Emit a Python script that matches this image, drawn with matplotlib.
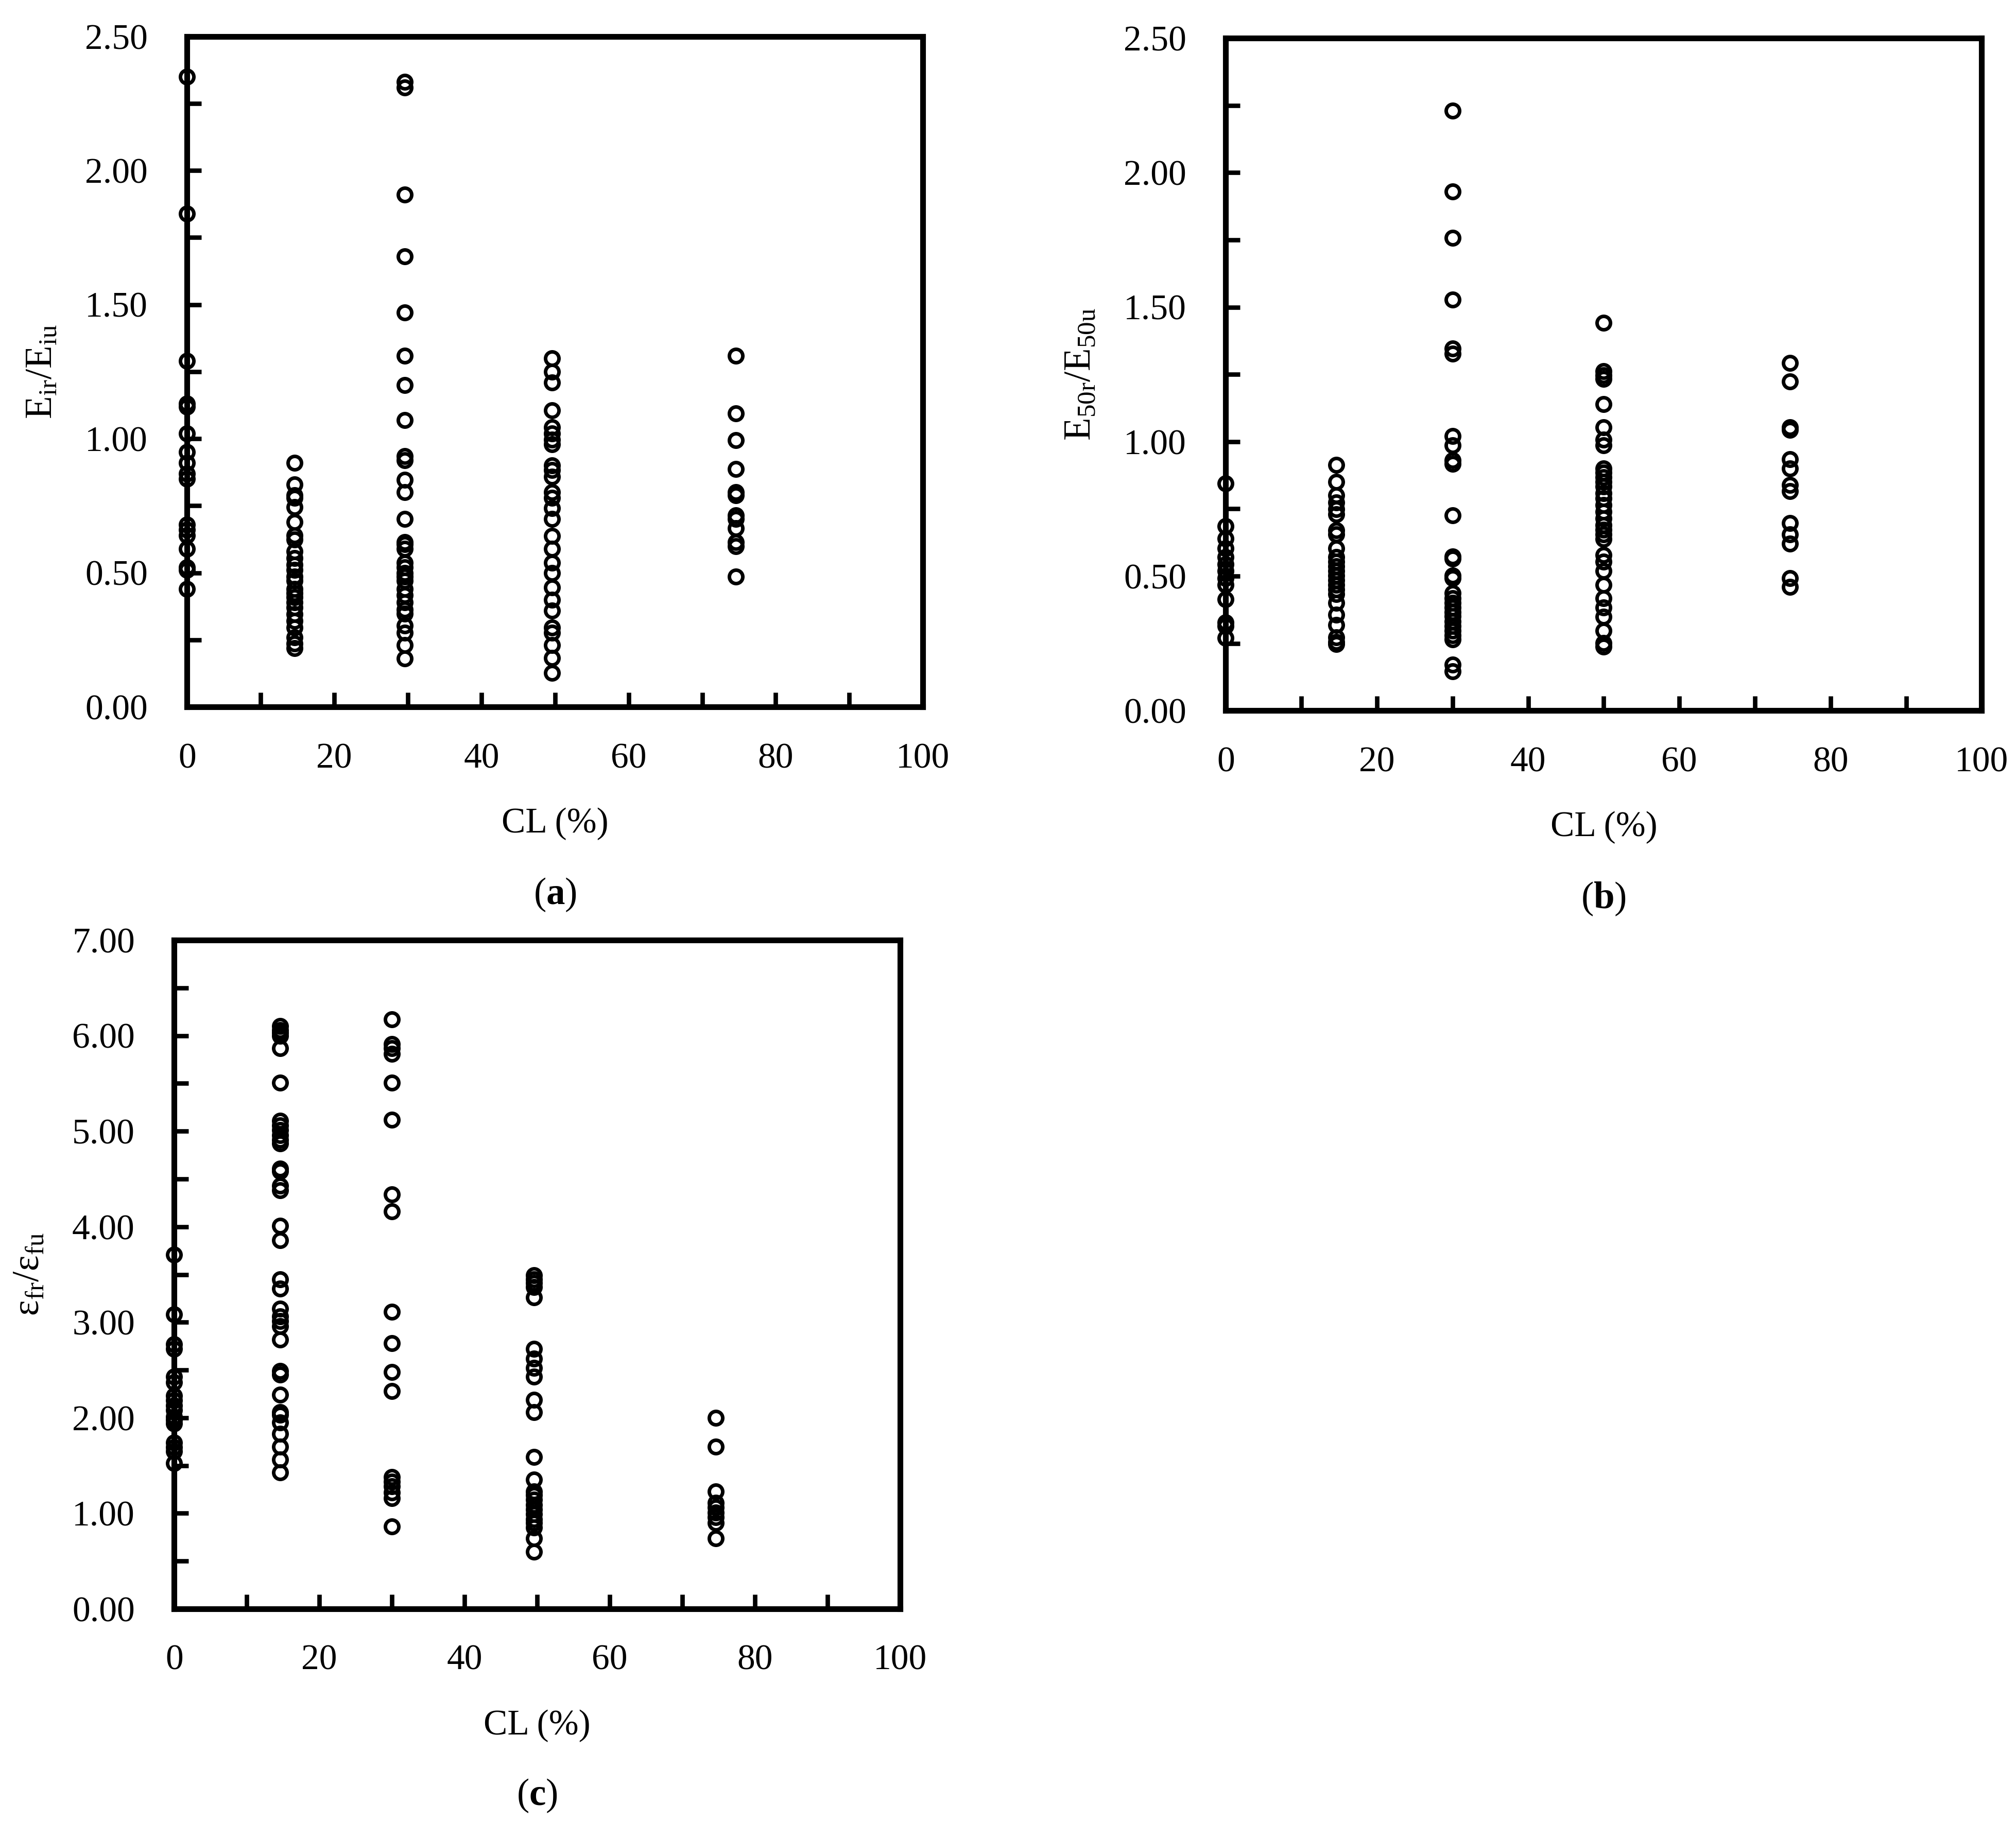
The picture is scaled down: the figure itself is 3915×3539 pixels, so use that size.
import numpy as np
import matplotlib
matplotlib.use("Agg")
import matplotlib.pyplot as plt
from matplotlib.ticker import MultipleLocator, FormatStrFormatter

plt.rcParams['font.family'] = ['Liberation Serif', 'DejaVu Serif']
plt.rcParams['mathtext.fontset'] = 'custom'
plt.rcParams['mathtext.rm'] = 'Liberation Serif'
plt.rcParams['mathtext.it'] = 'Liberation Serif:italic'
plt.rcParams['mathtext.bf'] = 'Liberation Serif:bold'

# CL groups
cl_a = [0, 14.6, 29.6, 49.6, 74.6]
cl_b = [0, 14.6, 30, 50, 74.6]
cl_c = [0, 14.6, 30, 49.6, 74.6]

# (a) Eir/Eiu
a0 = [2.35, 1.84, 1.29, 1.13, 1.12, 1.02, 0.95, 0.91, 0.87, 0.85, 0.68, 0.66, 0.64, 0.59, 0.52, 0.51, 0.44]
a15 = [0.91, 0.83, 0.79, 0.78, 0.745, 0.69, 0.64, 0.625, 0.58, 0.555, 0.53, 0.51, 0.485, 0.47, 0.44,
       0.425, 0.41, 0.39, 0.37, 0.345, 0.32, 0.295, 0.26, 0.237, 0.22]
a30 = [2.33, 2.31, 1.91, 1.68, 1.47, 1.31, 1.20, 1.07, 0.936, 0.92, 0.846, 0.80, 0.70, 0.615, 0.607, 0.59,
       0.537, 0.52, 0.50, 0.485, 0.47, 0.44, 0.416, 0.39, 0.364, 0.347, 0.303, 0.277, 0.23, 0.18]
a50 = [1.30, 1.25, 1.21, 1.105, 1.043, 1.02, 0.996, 0.98, 0.90, 0.884, 0.858, 0.80, 0.78, 0.742, 0.70,
       0.638, 0.59, 0.537, 0.50, 0.445, 0.40, 0.36, 0.295, 0.277, 0.23, 0.182, 0.127]
a75 = [1.31, 1.094, 0.995, 0.887, 0.80, 0.79, 0.714, 0.70, 0.667, 0.615, 0.60, 0.485]

# (b) E50r/E50u
b0 = [0.845, 0.685, 0.64, 0.604, 0.57, 0.544, 0.52, 0.493, 0.468, 0.413, 0.328, 0.315, 0.27]
b15 = [0.913, 0.85, 0.80, 0.774, 0.748, 0.73, 0.67, 0.655, 0.604, 0.57, 0.553, 0.536, 0.52, 0.502,
       0.485, 0.468, 0.45, 0.434, 0.40, 0.357, 0.318, 0.272, 0.255, 0.247]
b30 = [2.23, 1.93, 1.757, 1.529, 1.347, 1.327, 1.02, 0.986, 0.93, 0.918, 0.726, 0.573, 0.565, 0.502,
       0.493, 0.437, 0.417, 0.40, 0.383, 0.366, 0.35, 0.332, 0.315, 0.298, 0.28, 0.264, 0.17, 0.145]
b50 = [1.442, 1.262, 1.247, 1.233, 1.14, 1.054, 1.007, 0.986, 0.90, 0.884, 0.867, 0.85, 0.833, 0.808,
       0.79, 0.765, 0.74, 0.714, 0.689, 0.672, 0.655, 0.638, 0.578, 0.553, 0.519, 0.468, 0.417, 0.383,
       0.349, 0.298, 0.252, 0.238]
b75 = [1.292, 1.224, 1.054, 1.043, 0.935, 0.90, 0.838, 0.816, 0.697, 0.655, 0.62, 0.493, 0.46]

# (c) efr/efu
c0 = [3.71, 3.085, 2.77, 2.72, 2.43, 2.37, 2.23, 2.18, 2.13, 2.08, 2.01, 1.98, 1.94, 1.74, 1.69, 1.65, 1.525]
c15 = [6.10, 6.06, 6.03, 6.0, 5.87, 5.51, 5.11, 5.06, 5.01, 4.96, 4.91, 4.87, 4.61, 4.58, 4.43, 4.38,
       4.01, 3.86, 3.45, 3.35, 3.14, 3.06, 3.01, 2.96, 2.82, 2.49, 2.45, 2.24, 2.06, 2.03, 1.95, 1.83,
       1.70, 1.56, 1.43]
c30 = [6.17, 5.91, 5.87, 5.81, 5.51, 5.12, 4.34, 4.16, 3.11, 2.78, 2.48, 2.28, 1.38, 1.33, 1.28, 1.22,
       1.16, 0.86]
c50 = [3.49, 3.45, 3.41, 3.37, 3.26, 2.72, 2.62, 2.52, 2.43, 2.19, 2.06, 1.59, 1.35, 1.23, 1.19, 1.14,
       1.09, 1.04, 0.99, 0.94, 0.90, 0.85, 0.74, 0.60]
c75 = [2.0, 1.70, 1.23, 1.11, 1.06, 1.01, 0.96, 0.90, 0.74]

FS = 20

def panel(ax, cls, groups, ymax, ymaj, ymin, ylabel, cap):
    for x, vals in zip(cls, groups):
        ax.plot([x] * len(vals), vals, 'o', mfc='none', mec='black', ms=7.5, mew=2.0,
                linestyle='none', clip_on=False, zorder=3)
    ax.set_xlim(0, 100)
    ax.set_ylim(0, ymax)
    ax.xaxis.set_major_locator(MultipleLocator(20))
    ax.xaxis.set_minor_locator(MultipleLocator(10))
    ax.yaxis.set_major_locator(MultipleLocator(ymaj))
    ax.yaxis.set_minor_locator(MultipleLocator(ymin))
    ax.yaxis.set_major_formatter(FormatStrFormatter('%.2f'))
    ax.tick_params(which='both', direction='in', width=2.5, length=8, labelsize=FS)
    ax.tick_params(axis='y', which='both', pad=22)
    ax.tick_params(axis='x', which='both', pad=20)
    for s in ax.spines.values():
        s.set_linewidth(3.2)
    ax.set_xlabel('CL (%)', fontsize=FS, labelpad=18)
    ax.set_ylabel(ylabel, fontsize=FS + 1, labelpad=14)
    ax.text(0.5, -0.28, cap, transform=ax.transAxes, ha='center', va='center', fontsize=FS + 1)

fig = plt.figure(figsize=(15.66, 14.156), dpi=250)
ax1 = fig.add_axes([0.0928, 0.612, 0.365, 0.368])
ax2 = fig.add_axes([0.608, 0.610, 0.375, 0.369])
ax3 = fig.add_axes([0.0864, 0.117, 0.36, 0.367])

panel(ax1, cl_a, [a0, a15, a30, a50, a75], 2.5, 0.5, 0.25,
      r'$\mathrm{E_{ir}/E_{iu}}$', r'($\mathbf{a}$)')
panel(ax2, cl_b, [b0, b15, b30, b50, b75], 2.5, 0.5, 0.25,
      r'$\mathrm{E_{50r}/E_{50u}}$', r'($\mathbf{b}$)')
panel(ax3, cl_c, [c0, c15, c30, c50, c75], 7.0, 1.0, 0.5,
      r'$\mathrm{\varepsilon_{fr}/\varepsilon_{fu}}$', r'($\mathbf{c}$)')

fig.savefig('out.png', dpi=250)
